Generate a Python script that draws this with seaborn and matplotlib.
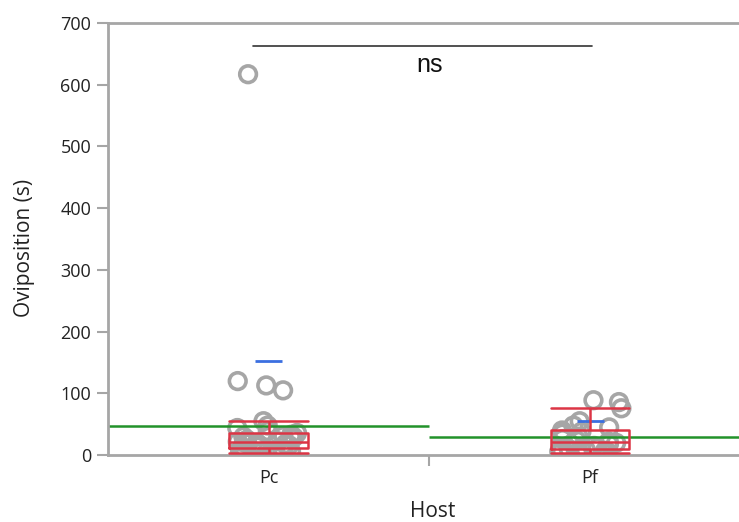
import numpy as np
import pandas as pd
import matplotlib

matplotlib.use("Agg")
import matplotlib.pyplot as plt
from matplotlib.ticker import FixedLocator
import seaborn as sns

# Values
hosts = ["Pc", "Pf"]
pc_values = [617, 120, 113, 105, 55, 48, 44, 39, 36, 33, 31, 30, 29, 27, 25,
             23, 22, 21, 20, 19, 18, 16, 15, 14, 12, 11, 10, 9, 8, 7, 6, 6, 5, 4]
pf_values = [89, 86, 76, 55, 48, 45, 40, 38, 35, 30, 26, 24, 22, 20, 18, 15,
             12, 11, 10, 8, 7, 6, 6, 5, 4]
y_ticks = [0, 100, 200, 300, 400, 500, 600, 700]
sig_label = "ns"
sig_height = 663

df = pd.DataFrame({
    "Host": ["Pc"] * len(pc_values) + ["Pf"] * len(pf_values),
    "Oviposition": pc_values + pf_values,
})

GRAY = "#a6a6a6"
RED = "#dc3545"
GREEN = "#22922a"
BLUE = "#3b6fe0"

sns.set_theme(style="white")
plt.rcParams["font.family"] = ["Open Sans", "DejaVu Sans"]

fig = plt.figure(figsize=(7.39, 5.22), dpi=100)
ax = fig.add_axes([0.146, 0.128, 0.870, 0.828])

# jittered raw points (hollow gray circles)
np.random.seed(11)
sns.stripplot(data=df, x="Host", y="Oviposition", order=hosts, jitter=0.1,
              size=12, color=GRAY, ax=ax, zorder=1)
for coll in ax.collections:
    coll.set_facecolor("none")
    coll.set_edgecolor(GRAY)
    coll.set_linewidth(2.6)

# outline box plot
sns.boxplot(data=df, x="Host", y="Oviposition", order=hosts, width=0.245,
            fill=False, color=RED, linewidth=1.8, showfliers=False,
            whis=1.5, ax=ax, capwidths=0.245)
for ln in ax.lines:
    ln.set_zorder(3)

# group means (green) and mean + std dev lines (blue)
stats = df.groupby("Host")["Oviposition"].agg(["mean", "std"]).reindex(hosts)
for i, h in enumerate(hosts):
    m = stats.loc[h, "mean"]
    s = stats.loc[h, "std"]
    ax.hlines(m, i - 0.5, i + 0.5, color=GREEN, lw=1.8, zorder=2)
    ax.hlines(m + s, i - 0.042, i + 0.042, color=BLUE, lw=2, zorder=2.5)

# significance bar
ax.plot([-0.05, 1.005], [sig_height, sig_height], color="#333333", lw=1.2)
ax.text(0.5, sig_height - 11, sig_label, ha="center", va="top",
        fontsize=18, color="#111111", family=["Liberation Sans", "DejaVu Sans"])

ax.set_xlim(-0.5, 1.5)
ax.set_ylim(0, 700)
ax.set_yticks(y_ticks)
ax.set_xticks([0, 1])
ax.set_xticklabels(hosts)
ax.xaxis.set_minor_locator(FixedLocator([0.5]))

for side in ["left", "bottom", "top"]:
    ax.spines[side].set_color(GRAY)
    ax.spines[side].set_linewidth(2)
ax.spines["right"].set_visible(False)

ax.tick_params(axis="y", which="major", length=8, width=1.5, color=GRAY,
               labelsize=13, labelcolor="#222222", pad=4, left=True)
ax.tick_params(axis="x", which="major", length=0, labelsize=13,
               labelcolor="#222222", pad=10)
ax.tick_params(axis="x", which="minor", length=8, width=1.5, color=GRAY,
               bottom=True)

ax.set_xlabel("Host", fontsize=15, color="#222222")
ax.set_ylabel("Oviposition (s)", fontsize=15, color="#222222")
ax.xaxis.set_label_coords(0.505, -0.105)
ax.yaxis.set_label_coords(-0.113, 0.479)

fig.savefig("out.png", dpi=100)
plt.close(fig)
